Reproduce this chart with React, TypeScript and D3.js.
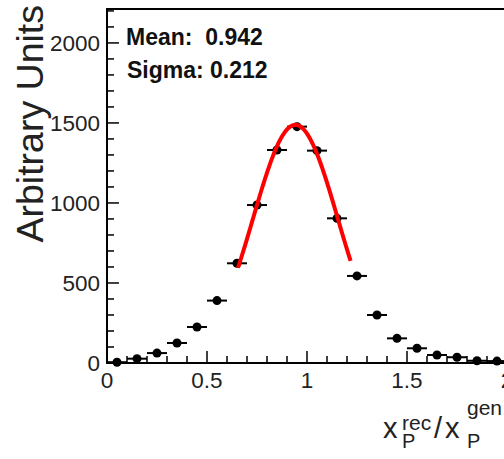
import React from "react";
import * as d3 from "d3";

// ---- data ----
const binCenters = [0.05, 0.15, 0.25, 0.35, 0.45, 0.55, 0.65, 0.75, 0.85, 0.95, 1.05, 1.15, 1.25, 1.35, 1.45, 1.55, 1.65, 1.75, 1.85, 1.95];
const binCounts = [5, 27, 62, 125, 225, 390, 623, 987, 1331, 1477, 1327, 904, 544, 300, 154, 92, 50, 36, 14, 12];
const binWidth = 0.1;

const xMajorTicks = [0, 0.5, 1, 1.5, 2];
const xTickLabels = ["0", "0.5", "1", "1.5", "2"];
const xMinorTicks = d3.range(0, 21).map((i) => i / 10);
const yMajorTicks = [0, 500, 1000, 1500, 2000];
const yTickLabels = ["0", "500", "1000", "1500", "2000"];
const yMinorTicks = d3.range(0, 23).map((i) => i * 100);

const fitConstant = 1488;
const fitMean = 0.942;
const fitSigma = 0.212;
const fitRange = [0.655, 1.218];

const statLabels = ["Mean:  0.942", "Sigma: 0.212"];

const W = 504;
const H = 459;

export default function App() {
  const x = d3.scaleLinear().domain([0, 2]).range([107, 507]);
  const y = d3.scaleLinear().domain([0, 2212]).range([363, 9]);

  const gauss = (v: number) =>
    fitConstant * Math.exp(-((v - fitMean) ** 2) / (2 * fitSigma * fitSigma));
  const fitXs = d3.range(0, 101).map((i) => fitRange[0] + ((fitRange[1] - fitRange[0]) * i) / 100);
  const line = d3
    .line<number>()
    .x((v) => x(v))
    .y((v) => y(gauss(v)))
    .curve(d3.curveLinear);

  const font = "'Liberation Sans', Arial, Helvetica, sans-serif";
  const x0 = x(0);
  const y0 = y(0);

  return (
    <svg
      width={W}
      height={H}
      style={{ position: "absolute", left: 0, top: 0, background: "#fff" }}
      fontFamily={font}
    >
      <rect x={0} y={0} width={W} height={H} fill="#fff" />
      {/* frame */}
      <rect x={x0} y={y(2212)} width={x(2) - x0 + 10} height={y0 - y(2212)} fill="none" stroke="#000" strokeWidth={2} />

      {/* y ticks */}
      {yMinorTicks.map((t) => (
        <line key={"ym" + t} x1={x0} x2={x0 + (yMajorTicks.includes(t) ? 12 : 7)} y1={y(t)} y2={y(t)} stroke="#000" strokeWidth={1.5} />
      ))}
      {/* x ticks */}
      {xMinorTicks.map((t, i) => (
        <line key={"xm" + i} x1={x(t)} x2={x(t)} y1={y0} y2={y0 - (i % 5 === 0 ? 12 : 7)} stroke="#000" strokeWidth={1.5} />
      ))}

      {/* y tick labels */}
      {yMajorTicks.map((t, i) => (
        <text key={"yl" + t} x={100} y={y(t)} dy="0.36em" textAnchor="end" fontSize={22.5} fill="#222">
          {yTickLabels[i]}
        </text>
      ))}
      {/* x tick labels */}
      {xMajorTicks.map((t, i) => (
        <text key={"xl" + t} x={x(t)} y={388} textAnchor="middle" fontSize={22.5} fill="#222">
          {xTickLabels[i]}
        </text>
      ))}

      {/* y title */}
      <text transform={`translate(43,5) rotate(-90)`} textAnchor="end" fontSize={37.5} fill="#222">
        Arbitrary Units
      </text>

      {/* x title */}
      <g fill="#222">
        <text x={383} y={438} fontSize={29}>x</text>
        <text x={402} y={448} fontSize={20}>P</text>
        <text x={402} y={430} fontSize={21}>rec</text>
        <text x={434} y={438} fontSize={29}>/</text>
        <text x={445} y={438} fontSize={29}>x</text>
        <text x={467} y={448} fontSize={20}>P</text>
        <text x={467} y={415} fontSize={21}>gen</text>
      </g>

      {/* stats */}
      <text x={126} y={45} fontSize={23} fontWeight="bold" fill="#111" style={{ whiteSpace: "pre" }}>
        {statLabels[0]}
      </text>
      <text x={127} y={78} fontSize={23} fontWeight="bold" fill="#111" style={{ whiteSpace: "pre" }}>
        {statLabels[1]}
      </text>

      {/* data points */}
      <g>
        {binCenters.map((c, i) => (
          <g key={"p" + i}>
            <line x1={x(c - binWidth / 2)} x2={x(c + binWidth / 2)} y1={y(binCounts[i])} y2={y(binCounts[i])} stroke="#000" strokeWidth={2} />
            <circle cx={x(c)} cy={y(binCounts[i])} r={4.5} fill="#000" />
          </g>
        ))}
      </g>

      {/* fit */}
      <path d={line(fitXs) || ""} fill="none" stroke="#ff0000" strokeWidth={4} />
    </svg>
  );
}
